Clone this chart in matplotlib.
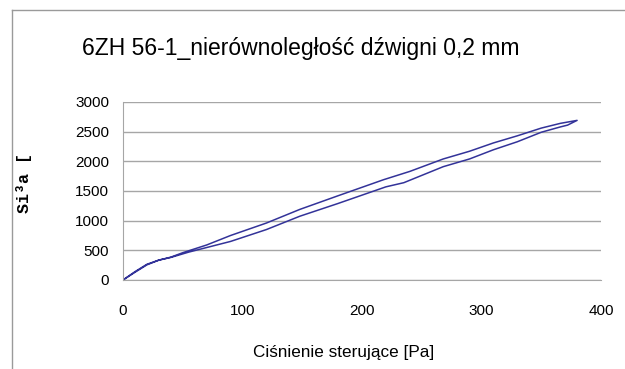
import matplotlib.pyplot as plt
from matplotlib.lines import Line2D

# pressure [Pa] / force values
press_up = [0, 10, 20, 30, 40, 50, 70, 90, 120, 148, 180, 218, 240, 268, 290, 310, 330, 350, 366, 380]
force_up = [0, 130, 255, 335, 385, 460, 590, 750, 960, 1190, 1420, 1690, 1830, 2040, 2170, 2310, 2430, 2560, 2640, 2690]
press_down = [380, 372, 366, 350, 330, 310, 290, 268, 235, 220, 180, 148, 120, 90, 55, 40, 30, 20, 10, 0]
force_down = [2690, 2610, 2580, 2490, 2330, 2195, 2040, 1910, 1640, 1570, 1290, 1075, 850, 650, 470, 380, 335, 265, 140, 0]

title = '6ZH 56-1_nierównoległość dźwigni 0,2 mm'
xlabel = 'Ciśnienie sterujące [Pa]'
ylabel = 'Si³a ['

plt.rcParams['font.family'] = ['Liberation Sans', 'DejaVu Sans']

fig = plt.figure(figsize=(6.25, 3.69), dpi=100)
ax = fig.add_axes([0.1968, 0.2412, 0.7648, 0.4824])

ax.plot(press_up + press_down, force_up + force_down, color='#333399', linewidth=1.1)

ax.set_xlim(0, 400)
ax.set_ylim(0, 3000)
ax.set_xticks([0, 100, 200, 300, 400])
ax.set_yticks(range(0, 3001, 500))
ax.yaxis.grid(True, color='#a6a6a6', linewidth=1.0)
ax.set_axisbelow(True)
for s in ['top', 'right']:
    ax.spines[s].set_visible(False)
for s in ['left', 'bottom']:
    ax.spines[s].set_color('#a6a6a6')
ax.tick_params(axis='both', length=0, labelsize=11)
ax.tick_params(axis='x', pad=17)
ax.tick_params(axis='y', pad=10)

fig.text(301 / 625, 1 - 48 / 369, title, ha='center', va='center', fontsize=16.5)
fig.text(344 / 625, 1 - 353 / 369, xlabel, ha='center', va='center', fontsize=12.3)
fig.text(24 / 625, 1 - 183 / 369, ylabel, ha='center', va='center', rotation=90,
         fontsize=12, fontweight='bold', family=['Liberation Mono', 'DejaVu Sans Mono'])

# chart area border (cropped)
fig.add_artist(Line2D([12 / 625, 1.0], [1 - 10 / 369, 1 - 10 / 369], color='#9a9a9a', linewidth=1.0))
fig.add_artist(Line2D([12 / 625, 12 / 625], [0.0, 1 - 10 / 369], color='#9a9a9a', linewidth=1.0))

plt.savefig('out.png', dpi=100)
